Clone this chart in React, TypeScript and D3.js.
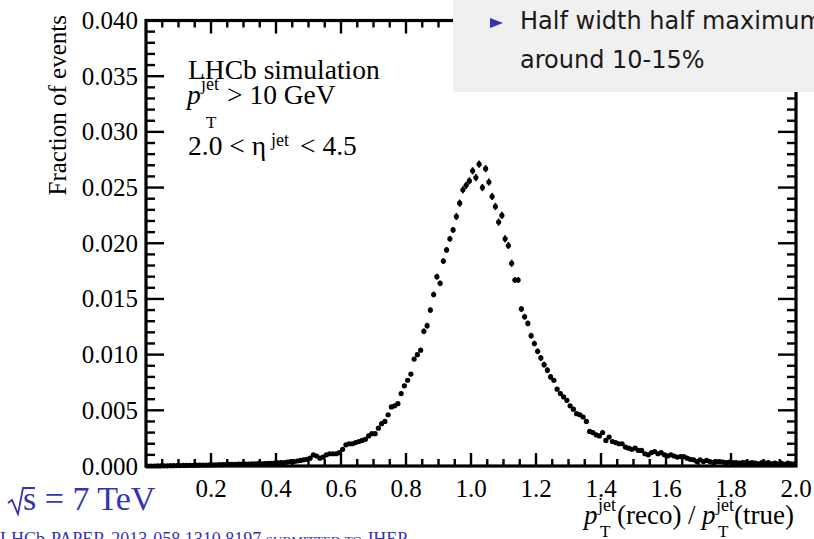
import React from "react";
import * as d3 from "d3";

// ---------- data ----------
const binLowEdge = 0.0;
const binWidth = 0.01;

// Fraction of events per bin, in units of 1e-3 (bins of 0.01 from 0.0 to 2.0)
const fractionPerMille = [
  0.00, 0.00, 0.00, 0.01, 0.01, 0.02, 0.02, 0.03, 0.03, 0.04,
  0.04, 0.05, 0.05, 0.06, 0.06, 0.07, 0.08, 0.08, 0.09, 0.10,
  0.10, 0.11, 0.12, 0.12, 0.13, 0.14, 0.15, 0.15, 0.16, 0.17,
  0.17, 0.18, 0.19, 0.20, 0.21, 0.20, 0.22, 0.23, 0.24, 0.25,
  0.28, 0.30, 0.30, 0.35, 0.40, 0.40, 0.45, 0.50, 0.55, 0.60,
  0.70, 1.00, 0.90, 0.70, 0.80, 1.00, 1.10, 1.10, 1.10, 1.20,
  1.50, 1.90, 2.00, 2.00, 2.10, 2.20, 2.30, 2.40, 2.70, 2.90,
  2.90, 3.40, 3.80, 4.00, 4.60, 5.30, 5.40, 5.60, 6.50, 7.20,
  7.70, 8.25, 9.60, 10.0, 10.4, 12.1, 12.6, 14.0, 15.4, 17.0,
  16.4, 18.4, 19.4, 20.4, 21.2, 22.4, 23.6, 24.8, 25.2, 25.6,
  26.5, 25.9, 27.1, 25.0, 26.7, 25.5, 24.2, 23.3, 21.9, 22.5,
  20.4, 19.8, 18.2, 16.7, 16.7, 14.1, 13.4, 12.8, 11.7, 11.0,
  10.3, 9.7, 9.1, 8.6, 8.0, 7.7, 6.9, 6.5, 6.2, 5.9,
  5.4, 5.1, 4.7, 4.6, 4.4, 4.0, 3.1, 3.0, 2.8, 2.7,
  3.0, 2.3, 2.6, 2.2, 2.1, 2.0, 2.0, 1.7, 1.6, 1.5,
  1.6, 1.4, 1.4, 1.1, 1.0, 1.2, 1.3, 1.1, 1.2, 1.0,
  0.9, 1.0, 0.9, 0.8, 0.85, 0.85, 0.7, 0.6, 0.55, 0.4,
  0.55, 0.4, 0.5, 0.4, 0.3, 0.4, 0.4, 0.35, 0.3, 0.35,
  0.3, 0.3, 0.25, 0.3, 0.3, 0.25, 0.3, 0.25, 0.2, 0.3,
  0.25, 0.3, 0.2, 0.25, 0.2, 0.25, 0.15, 0.25, 0.2, 0.2,
];

// Statistical uncertainty per bin, same units
const errorPerMille = [
  0.05, 0.05, 0.05, 0.05, 0.05, 0.05, 0.05, 0.05, 0.05, 0.05,
  0.05, 0.05, 0.05, 0.05, 0.05, 0.05, 0.05, 0.05, 0.05, 0.05,
  0.05, 0.05, 0.05, 0.05, 0.05, 0.05, 0.05, 0.05, 0.05, 0.05,
  0.05, 0.05, 0.05, 0.05, 0.05, 0.05, 0.05, 0.05, 0.05, 0.05,
  0.08, 0.08, 0.08, 0.08, 0.08, 0.08, 0.08, 0.08, 0.08, 0.08,
  0.08, 0.08, 0.08, 0.08, 0.08, 0.08, 0.08, 0.08, 0.08, 0.08,
  0.12, 0.12, 0.12, 0.12, 0.12, 0.12, 0.12, 0.12, 0.12, 0.12,
  0.12, 0.12, 0.12, 0.12, 0.12, 0.18, 0.18, 0.18, 0.18, 0.18,
  0.18, 0.18, 0.18, 0.18, 0.18, 0.26, 0.26, 0.26, 0.26, 0.26,
  0.26, 0.26, 0.26, 0.26, 0.26, 0.32, 0.32, 0.32, 0.32, 0.32,
  0.32, 0.32, 0.32, 0.32, 0.32, 0.32, 0.32, 0.32, 0.32, 0.32,
  0.32, 0.32, 0.32, 0.26, 0.26, 0.26, 0.26, 0.26, 0.26, 0.26,
  0.26, 0.26, 0.26, 0.26, 0.26, 0.18, 0.18, 0.18, 0.18, 0.18,
  0.18, 0.18, 0.18, 0.18, 0.18, 0.18, 0.18, 0.18, 0.18, 0.18,
  0.12, 0.12, 0.12, 0.12, 0.12, 0.12, 0.12, 0.12, 0.12, 0.12,
  0.12, 0.12, 0.12, 0.12, 0.12, 0.12, 0.12, 0.12, 0.12, 0.12,
  0.08, 0.08, 0.08, 0.08, 0.08, 0.08, 0.08, 0.08, 0.08, 0.08,
  0.08, 0.08, 0.08, 0.08, 0.08, 0.08, 0.08, 0.08, 0.08, 0.08,
  0.06, 0.06, 0.06, 0.06, 0.06, 0.06, 0.06, 0.06, 0.06, 0.06,
  0.06, 0.06, 0.06, 0.06, 0.06, 0.06, 0.06, 0.06, 0.06, 0.06,
];

const xTickValues = [0.2, 0.4, 0.6, 0.8, 1.0, 1.2, 1.4, 1.6, 1.8, 2.0];
const xTickLabels = ["0.2", "0.4", "0.6", "0.8", "1.0", "1.2", "1.4", "1.6", "1.8", "2.0"];
const yTickValues = [0, 5, 10, 15, 20, 25, 30, 35, 40];
const yTickLabels = ["0.000", "0.005", "0.010", "0.015", "0.020", "0.025", "0.030", "0.035", "0.040"];

const bulletLines = ["Half width half maximum", "around 10-15%"];

// ---------- styles ----------
const SERIF = "'Liberation Serif', 'Times New Roman', serif";
const SANS = "'DejaVu Sans', sans-serif";
const BLUE = "#3333b3";

export default function App() {
  const W = 814;
  const H = 539;
  const L = 146, R = 796, T = 20.5, B = 466;

  const x = d3.scaleLinear().domain([0, 2]).range([L, R]);
  const y = d3.scaleLinear().domain([0, 40]).range([B, T]);

  const points = fractionPerMille.map((v, i) => ({
    c: binLowEdge + (i + 0.5) * binWidth,
    v,
    e: errorPerMille[i],
  }));

  const xMinor = x.ticks(40).filter((t) => t > 0.001 && t < 1.999);
  const yMinor = y.ticks(40).filter((t) => t > 0.001 && t < 39.999);
  const isXMajor = (t: number) => Math.abs(t / 0.2 - Math.round(t / 0.2)) < 1e-6;
  const isYMajor = (t: number) => Math.abs(t / 5 - Math.round(t / 5)) < 1e-6;

  const xMajLen = 13, xMinLen = 7, yMajLen = 18, yMinLen = 9;

  return (
    <svg
      width={W}
      height={H}
      style={{ position: "absolute", left: 0, top: 0, background: "#fff" }}
      xmlns="http://www.w3.org/2000/svg"
    >
      <rect x={0} y={0} width={W} height={H} fill="#ffffff" />

      {/* data points */}
      <g>
        {points.map((p, i) => (
          <g key={i}>
            <line
              x1={x(p.c)}
              x2={x(p.c)}
              y1={y(Math.max(0, p.v - p.e))}
              y2={y(p.v + p.e)}
              stroke="#000"
              strokeWidth={1.8}
            />
            <circle cx={x(p.c)} cy={y(p.v)} r={2.6} fill="#000" />
          </g>
        ))}
      </g>

      {/* ticks */}
      <g stroke="#000" strokeWidth={2.4}>
        {xMinor.map((t, i) => {
          const len = isXMajor(t) ? xMajLen : xMinLen;
          return (
            <g key={"xt" + i}>
              <line x1={x(t)} x2={x(t)} y1={B} y2={B - len} />
              <line x1={x(t)} x2={x(t)} y1={T} y2={T + len} />
            </g>
          );
        })}
        {yMinor.map((t, i) => {
          const len = isYMajor(t) ? yMajLen : yMinLen;
          return (
            <g key={"yt" + i}>
              <line x1={L} x2={L + len} y1={y(t)} y2={y(t)} />
              <line x1={R} x2={R - len} y1={y(t)} y2={y(t)} />
            </g>
          );
        })}
      </g>

      {/* frame */}
      <rect x={L} y={T} width={R - L} height={B - T} fill="none" stroke="#000" strokeWidth={3.2} />

      {/* tick labels */}
      <g fontFamily={SERIF} fontSize={25} fill="#000">
        {yTickValues.map((v, i) => (
          <text key={"yl" + i} x={138} y={y(v)} dy="0.34em" textAnchor="end">
            {yTickLabels[i]}
          </text>
        ))}
        {xTickValues.map((v, i) => (
          <text key={"xl" + i} x={x(v)} y={497} textAnchor="middle">
            {xTickLabels[i]}
          </text>
        ))}
      </g>

      {/* axis titles */}
      <text
        transform="translate(66,15) rotate(-90)"
        fontFamily={SERIF}
        fontSize={25}
        textAnchor="end"
      >
        Fraction of events
      </text>

      <g fontFamily={SERIF} fill="#000">
        <text x={584} y={524} fontSize={27} fontStyle="italic">p</text>
        <text x={598} y={511} fontSize={18}>jet</text>
        <text x={600} y={537} fontSize={17}>T</text>
        <text x={617} y={524} fontSize={27}>(reco)</text>
        <text x={688} y={524} fontSize={27}>/</text>
        <text x={702} y={524} fontSize={27} fontStyle="italic">p</text>
        <text x={716} y={511} fontSize={18}>jet</text>
        <text x={718} y={537} fontSize={17}>T</text>
        <text x={734} y={524} fontSize={27}>(true)</text>
      </g>

      {/* annotation */}
      <g fontFamily={SERIF} fill="#000">
        <text x={188} y={79} fontSize={27.5}>LHCb simulation</text>
        <text x={187} y={104} fontSize={27.5} fontStyle="italic">p</text>
        <text x={201} y={90} fontSize={18}>jet</text>
        <text x={206} y={128} fontSize={17}>T</text>
        <text x={227} y={104} fontSize={27.5}>&gt; 10 GeV</text>
        <text x={188} y={155} fontSize={27.5}>2.0 &lt; η</text>
        <text x={271} y={146} fontSize={18}>jet</text>
        <text x={300} y={155} fontSize={27.5}>&lt; 4.5</text>
      </g>

      {/* overlay from slide */}
      <rect x={453} y={0} width={W - 453} height={92} fill="#f0f0f0" />
      <path d="M490,18 L503,23 L490,28 Z" fill={BLUE} />
      <g fontFamily={SANS} fontSize={24} fill="#1a1a1a">
        <text x={520} y={29}>{bulletLines[0]}</text>
        <text x={520} y={68}>{bulletLines[1]}</text>
      </g>

      {/* sqrt(s) */}
      <g fill={BLUE} fontFamily={SERIF}>
        <path
          d="M8,503 L12,500 L18,514 L23,488 L35,488"
          fill="none"
          stroke={BLUE}
          strokeWidth={1.8}
          strokeLinejoin="miter"
        />
        <text x={23} y={510} fontSize={34}>s = 7 TeV</text>
        <text x={0} y={545} fontSize={18}>
          LHCb-PAPER-2013-058 1310.8197{" "}
          <tspan fontVariant="small-caps">submitted to JHEP</tspan>
        </text>
      </g>
    </svg>
  );
}
